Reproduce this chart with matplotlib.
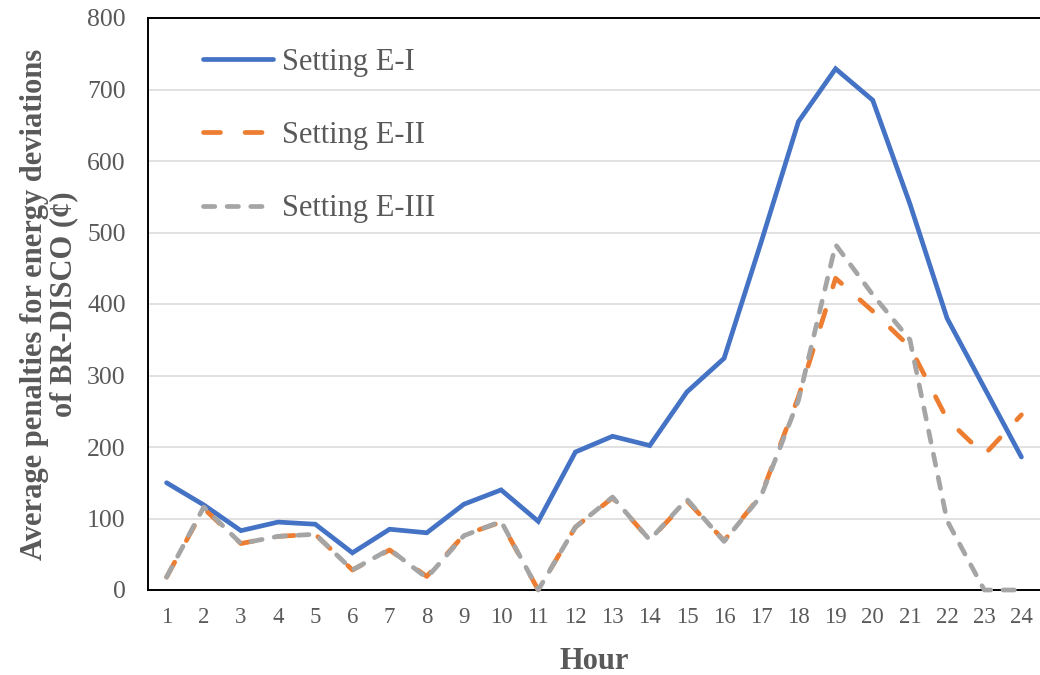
import matplotlib
matplotlib.use("Agg")
import matplotlib.pyplot as plt

plt.rcParams['font.family'] = ['Liberation Serif', 'DejaVu Serif']

hours = list(range(1, 25))
setting_e1 = [150, 119, 83, 95, 92, 52, 85, 80, 120, 140, 96, 193,
              215, 202, 277, 324, 487, 655, 729, 685, 540, 380, 283, 186]
setting_e2 = [18, 114, 65, 75, 78, 28, 56, 19, 77, 95, 0, 88,
              129, 70, 125, 69, 133, 270, 436, 390, 340, 239, 189, 245]
setting_e3 = [18, 116, 65, 75, 78, 28, 57, 17, 76, 96, 0, 88,
              130, 70, 127, 68, 132, 265, 483, 413, 350, 97, 0, 0]
series_names = ['Setting E-I', 'Setting E-II', 'Setting E-III']

txt = '#595959'
lw = 3.4

fig = plt.figure(figsize=(10.4, 6.75), dpi=100)
ax = fig.add_axes([148 / 1040, 85 / 675, 892 / 1040, 572 / 675])

ax.plot(hours, setting_e1, color='#4472C4', lw=lw, solid_capstyle='round',
        solid_joinstyle='miter', label=series_names[0], zorder=3)
l2, = ax.plot(hours, setting_e2, color='#ED7D31', lw=lw, dash_capstyle='round',
              label=series_names[1], zorder=4, clip_on=False)
l2.set_dashes((3.6, 5.2))
l3, = ax.plot(hours, setting_e3, color='#A5A5A5', lw=lw, dash_capstyle='round',
              label=series_names[2], zorder=5, clip_on=False)
l3.set_dashes((2.4, 2.6))

ax.set_xlim(0.5, 24.5)
ax.set_ylim(0, 800)
ax.set_xticks(hours)
ax.set_yticks(range(0, 801, 100))
ax.yaxis.grid(True, color='#D9D9D9', lw=1.1)
ax.set_axisbelow(True)

for side in ['left', 'top', 'bottom']:
    ax.spines[side].set_color('black')
    ax.spines[side].set_linewidth(1.4)
ax.spines['right'].set_visible(False)

ax.tick_params(axis='both', length=0, colors=txt)
ax.tick_params(axis='y', labelsize=18.5, pad=16)
ax.tick_params(axis='x', labelsize=16.5, pad=12)

ax.set_xlabel('Hour', fontsize=22, fontweight='bold', color=txt)
ax.xaxis.set_label_coords(0.5, -0.1)
ax.set_ylabel('Average penalties for energy deviations\nof BR-DISCO (¢)',
              fontsize=22, fontweight='bold', color=txt, linespacing=1.0)
ax.yaxis.set_label_coords(-0.078, 0.5)

leg = ax.legend(loc='upper left', bbox_to_anchor=(0.0617, 0.948), frameon=False,
                fontsize=22, labelspacing=1.45, handlelength=2.3,
                handletextpad=0.3, borderpad=0, borderaxespad=0)
for t in leg.get_texts():
    t.set_color(txt)

fig.savefig('out.png', dpi=100)
